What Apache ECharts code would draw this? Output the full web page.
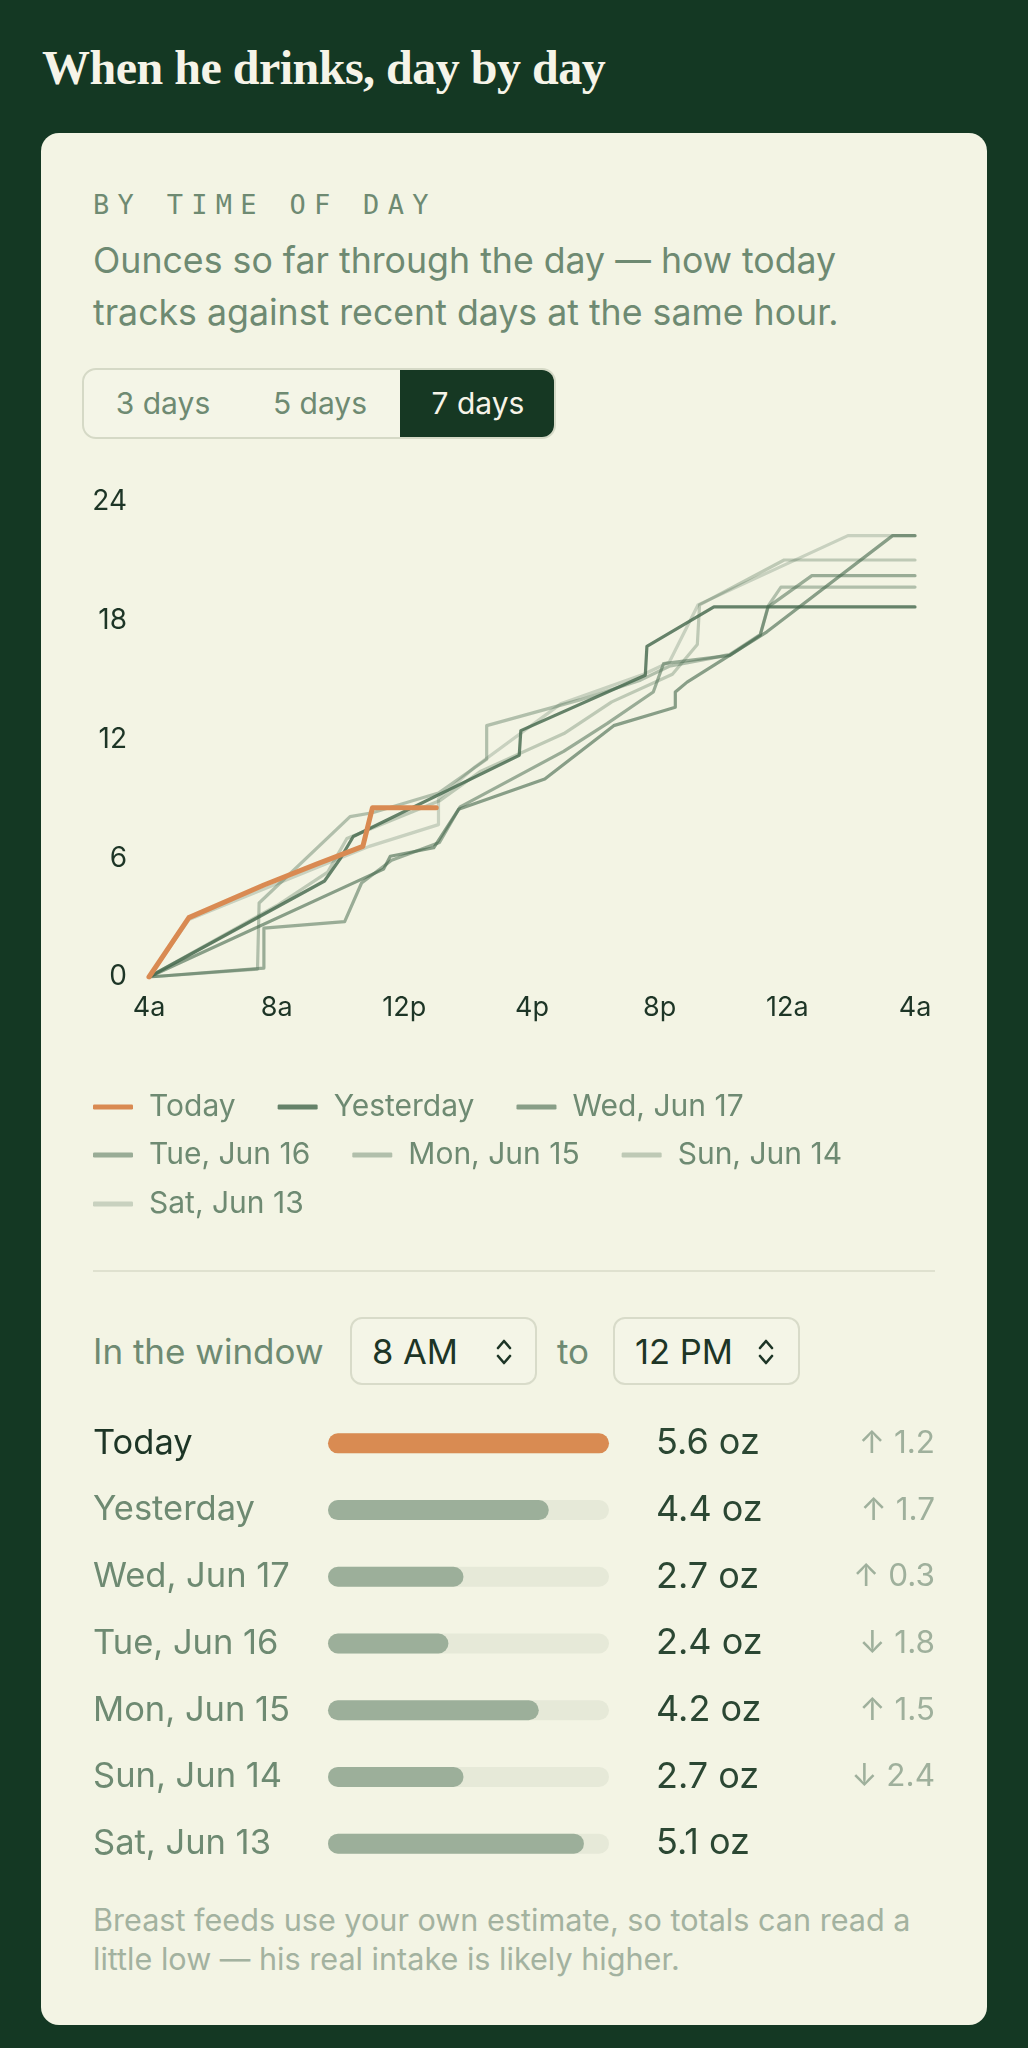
<!DOCTYPE html>
<html>
<head>
<meta charset="utf-8">
<script src="https://cdn.jsdelivr.net/npm/echarts@6/dist/echarts.min.js"></script>
<style>
  html,body{margin:0;padding:0;}
  body{width:1028px;height:2048px;background:#143823;position:relative;overflow:hidden;font-family:Inter,"Noto Sans",sans-serif;}
  .abs{position:absolute;white-space:nowrap;}
  .title{left:42px;top:44px;font-family:"Liberation Serif",serif;font-weight:bold;font-size:48px;line-height:48px;color:#f6f4e8;letter-spacing:-0.5px;}
  .card{left:41px;top:133px;width:946px;height:1892px;background:#f3f4e4;border-radius:18px;}
  .kicker{left:93px;top:191px;font-family:"DejaVu Sans Mono",monospace;font-size:27px;line-height:28px;letter-spacing:8.3px;color:#6e8a72;}
  .sub{left:93px;top:234px;font-size:35.7px;line-height:52px;color:#6e8a72;}
  .seg{left:82px;top:368px;width:470px;height:67px;border:2px solid #d5d9c6;border-radius:14px;background:#f4f5e7;overflow:hidden;}
  .segon{position:absolute;left:316px;top:0;width:154px;height:67px;background:#163823;}
  .segt{font-size:30px;line-height:30px;top:388px;transform:translateX(-50%);color:#6e8a72;}
  .divider{left:93px;top:1270px;width:842px;height:2px;background:#dfe1cf;}
  .win{font-size:35px;line-height:35px;top:1334px;color:#6e8a72;}
  .sel{top:1317px;height:64px;border:2px solid #d8dbc9;border-radius:12px;background:#f4f5e7;}
  .selt{font-size:34.5px;line-height:35px;top:1334px;color:#1d3526;}
  .foot{left:93px;top:1900px;font-size:30.6px;line-height:39px;color:#a3b2a0;white-space:normal;width:862px;}
  #chart{position:absolute;left:0;top:0;width:1028px;height:2048px;}
</style>
</head>
<body>
<div class="abs title">When he drinks, day by day</div>
<div class="abs card"></div>
<div class="abs kicker">BY TIME OF DAY</div>
<div class="abs sub">Ounces so far through the day — how today<br>tracks against recent days at the same hour.</div>
<div class="abs seg"><div class="segon"></div></div>
<div class="abs segt" style="left:163px">3 days</div>
<div class="abs segt" style="left:320px">5 days</div>
<div class="abs segt" style="left:478px;color:#f6f4e8">7 days</div>
<div class="abs divider"></div>
<div class="abs win" style="left:93px">In the window</div>
<div class="abs sel" style="left:350px;width:183px"></div>
<div class="abs selt" style="left:372px">8 AM</div>
<svg class="abs" style="left:496px;top:1337px" width="16" height="30" viewBox="0 0 16 30"><path d="M2 11 L8 4 L14 11 M2 19 L8 26 L14 19" fill="none" stroke="#1d3526" stroke-width="2.6" stroke-linecap="round" stroke-linejoin="round"/></svg>
<div class="abs win" style="left:557px">to</div>
<div class="abs sel" style="left:613px;width:183px"></div>
<div class="abs selt" style="left:635px">12 PM</div>
<svg class="abs" style="left:758px;top:1337px" width="16" height="30" viewBox="0 0 16 30"><path d="M2 11 L8 4 L14 11 M2 19 L8 26 L14 19" fill="none" stroke="#1d3526" stroke-width="2.6" stroke-linecap="round" stroke-linejoin="round"/></svg>
<div class="abs foot">Breast feeds use your own estimate, so totals can read a little low — his real intake is likely higher.</div>
<div id="chart"></div>
<script>
// ---- data ----
const xTickLabels = ['4a','8a','12p','4p','8p','12a','4a'];
const seriesNames = ['Today','Yesterday','Wed, Jun 17','Tue, Jun 16','Mon, Jun 15','Sun, Jun 14','Sat, Jun 13'];
// [hour since midnight (4 = 4am, 28 = 4am next day), cumulative oz]
const todayPts = [[4,0],[5.25,3.0],[7.6,4.65],[9.25,5.7],[10.7,6.6],[11.0,8.55],[13.0,8.55]];
const yesterdayPts = [[4,0],[9.5,4.85],[10.0,6.0],[10.4,7.1],[15.6,11.2],[15.65,12.45],[19.55,15.25],[19.6,16.7],[21.7,18.7],[28,18.7]];
const wedPts = [[4,0],[11.35,5.45],[11.56,6.1],[12.92,6.53],[13.7,8.47],[16.4,10.0],[18.56,12.7],[20.02,13.4],[20.49,13.63],[20.49,14.4],[20.86,14.9],[23.36,17.44],[27.3,22.3],[28,22.3]];
const tuePts = [[4,0],[7.6,0.45],[7.6,2.47],[10.13,2.8],[10.66,4.75],[11.6,5.9],[13.1,6.8],[13.75,8.6],[16.99,11.4],[18.35,12.8],[19.8,14.4],[20.12,15.83],[22.2,16.25],[23.15,17.27],[23.4,18.7],[24.77,20.28],[28,20.28]];
const monPts = [[4,0],[7.4,0.4],[7.45,3.74],[10.3,8.1],[11.0,8.3],[13.07,9.3],[14.58,11.0],[14.58,12.7],[17.5,14.0],[19.4,15.0],[20.3,15.7],[21.6,16.1],[22.2,16.3],[23.15,17.3],[23.4,18.75],[23.8,19.7],[28,19.7]];
const sunPts = [[4,0],[8.0,3.6],[9.6,5.3],[10.2,7.0],[13.1,8.9],[14.4,10.4],[17.0,12.3],[18.5,13.9],[20.4,15.3],[21.18,16.8],[21.25,18.8],[23.9,21.07],[28,21.07]];
const satPts = [[4,0],[5.25,2.9],[10.9,6.6],[13.07,7.7],[13.07,9.0],[14.2,10.6],[16.9,13.8],[19.5,15.3],[20.3,15.9],[21.2,18.8],[25.9,22.3],[28,22.3]];

const windowDays = ['Today','Yesterday','Wed, Jun 17','Tue, Jun 16','Mon, Jun 15','Sun, Jun 14','Sat, Jun 13'];
const windowOz = [5.6,4.4,2.7,2.4,4.2,2.7,5.1];
const windowDelta = ['↑ 1.2','↑ 1.7','↑ 0.3','↓ 1.8','↑ 1.5','↓ 2.4',''];

// ---- styles ----
const allPts = [todayPts,yesterdayPts,wedPts,tuePts,monPts,sunPts,satPts];
const lineColors = ['#d98a52','rgba(70,105,78,0.82)','rgba(70,105,78,0.62)','rgba(70,105,78,0.52)','rgba(70,105,78,0.38)','rgba(70,105,78,0.31)','rgba(70,105,78,0.25)'];
const lineWidths = [5,3.2,3.2,3.2,3.2,3.2,3.2];
const FONT = 'Inter';

const chart = echarts.init(document.getElementById('chart'), null, {renderer:'canvas'});

const lineSeries = allPts.map((pts,i)=>({
  name: seriesNames[i], type:'line', xAxisIndex:0, yAxisIndex:0,
  data: pts, showSymbol:false, symbol:'none', smooth:false,
  lineStyle:{color:lineColors[i], width:lineWidths[i], join:'round', cap:'round'},
  itemStyle:{color:lineColors[i]},
  z: 10 - i, emphasis:{disabled:true}, animation:false
}));

const legendCommon = {
  icon:'roundRect', itemWidth:40, itemHeight:5, itemGap:42, left:93, padding:0,
  textStyle:{fontSize:30, color:'#6e8a72', fontFamily:FONT, padding:[0,0,0,11]},
  selectedMode:false
};

const option = {
  animation:false,
  grid:[
    {left:149, top:502, width:766, height:475},
    {left:328, top:1410, width:281, height:467}
  ],
  legend:[
    Object.assign({}, legendCommon, {top:1092, data:seriesNames.slice(0,3)}),
    Object.assign({}, legendCommon, {top:1140, data:seriesNames.slice(3,6)}),
    Object.assign({}, legendCommon, {top:1189, data:seriesNames.slice(6)})
  ],
  xAxis:[
    {gridIndex:0, type:'value', min:4, max:28, interval:4,
     axisLabel:{formatter:v=>xTickLabels[Math.round((v-4)/4)], color:'#1d3526', fontSize:27, margin:17, fontFamily:FONT},
     axisLine:{show:false}, axisTick:{show:false}, splitLine:{show:false}},
    {gridIndex:1, type:'value', min:0, max:Math.max(...windowOz), show:false, splitLine:{show:false}}
  ],
  yAxis:[
    {gridIndex:0, type:'value', min:0, max:24, interval:6,
     axisLabel:{color:'#1d3526', fontSize:28, margin:22, fontFamily:FONT},
     axisLine:{show:false}, axisTick:{show:false}, splitLine:{show:false}},
    {gridIndex:1, type:'category', data:windowDays, inverse:true,
     axisLine:{show:false}, axisTick:{show:false},
     axisLabel:{align:'left', margin:235, fontSize:34.5, fontFamily:FONT,
       color:(v,i)=> (i===0 ? '#1d3526' : '#6e8a72')}},
    {gridIndex:1, type:'category', data:windowDays, inverse:true, position:'right',
     axisLine:{show:false}, axisTick:{show:false},
     axisLabel:{align:'left', margin:47, fontSize:36, fontFamily:FONT, color:'#2b4733',
       formatter:(v,i)=> windowOz[i].toFixed(1)+' oz'}},
    {gridIndex:1, type:'category', data:windowDays, inverse:true, position:'right',
     axisLine:{show:false}, axisTick:{show:false},
     axisLabel:{align:'right', margin:326, fontSize:31.5, fontFamily:FONT, color:'#9fb09c',
       formatter:(v,i)=> windowDelta[i]}}
  ],
  series: lineSeries.concat([{
    type:'bar', xAxisIndex:1, yAxisIndex:1, barWidth:20,
    data: windowOz.map((v,i)=>({value:v, itemStyle:{color: i===0 ? '#d98b52' : '#9caf9a'}})),
    showBackground:true, backgroundStyle:{color:'#e6e9d8', borderRadius:10},
    itemStyle:{borderRadius:10}, emphasis:{disabled:true}, animation:false
  }])
};
chart.setOption(option);
</script>
</body>
</html>
